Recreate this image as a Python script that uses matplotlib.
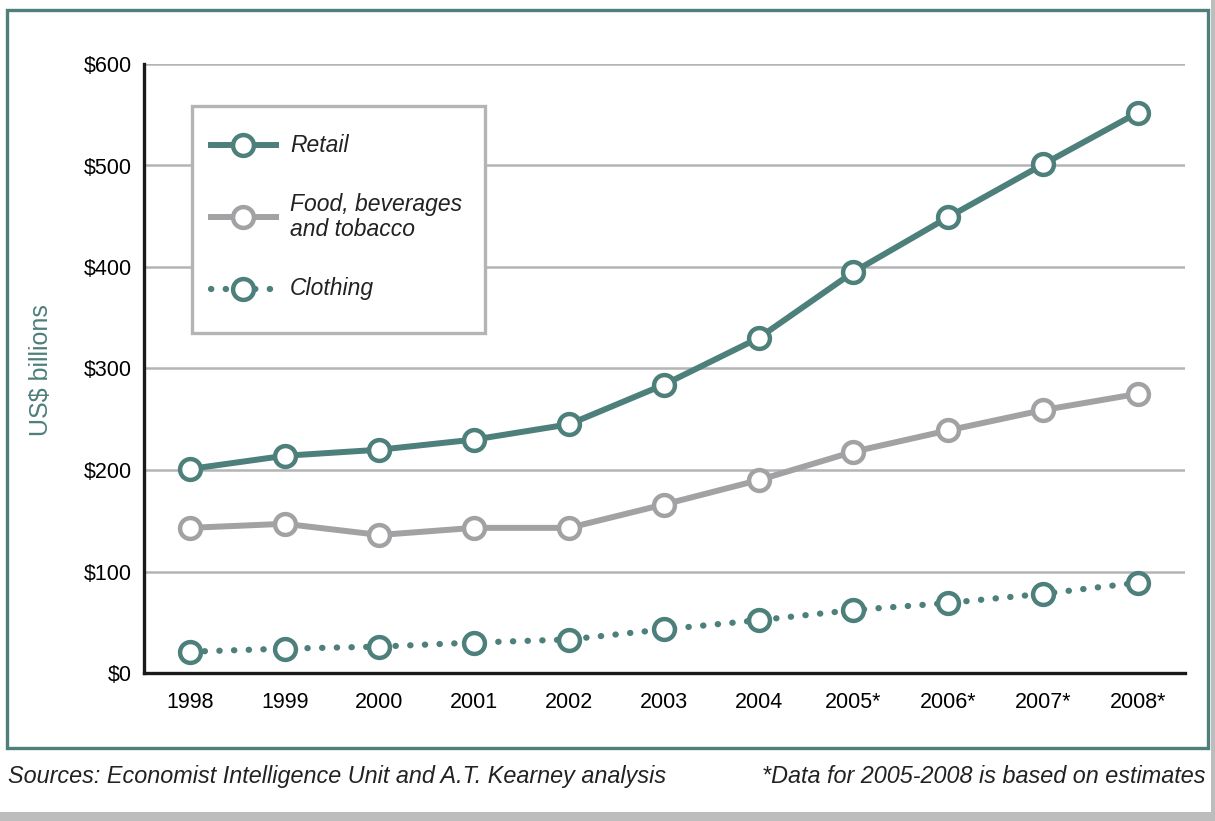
import matplotlib.pyplot as plt
from matplotlib.patches import Rectangle
from matplotlib.lines import Line2D

# ------------------------------------------
# DATA
# ------------------------------------------
years = ["1998", "1999", "2000", "2001", "2002", "2003",
         "2004", "2005*", "2006*", "2007*", "2008*"]
retail = [201, 214, 220, 230, 245, 284, 330, 395, 449, 501, 552]
food = [143, 147, 136, 143, 143, 166, 190, 218, 239, 259, 275]
clothing = [21, 24, 26, 30, 33, 43, 52, 62, 69, 78, 89]
yticks = [0, 100, 200, 300, 400, 500, 600]
ytick_labels = ["$0", "$100", "$200", "$300", "$400", "$500", "$600"]
series_labels = ["Retail", "Food, beverages\nand tobacco", "Clothing"]

TEAL = "#4d7f7b"
GRAY = "#a2a2a5"
GRID = "#b4b4b6"
FONT = ["Liberation Sans Narrow", "Liberation Sans", "DejaVu Sans"]

plt.rcParams["font.family"] = FONT

W, H = 1215, 821
fig = plt.figure(figsize=(W / 100, H / 100), dpi=100)


def fx(px):
    return px / W


def fy(py):
    return 1 - py / H


# outer teal frame
fig.patches.append(Rectangle((fx(7), fy(748)), (1208 - 7) / W, (748 - 10) / H,
                             transform=fig.transFigure, fill=False,
                             edgecolor=TEAL, linewidth=2.4, zorder=0))
# gray bars at bottom / right
fig.patches.append(Rectangle((0, 0), 1, 9 / H, transform=fig.transFigure,
                             facecolor="#bdbdbd", edgecolor="none"))
fig.patches.append(Rectangle((fx(1211), 0), 4 / W, 1, transform=fig.transFigure,
                             facecolor="#bdbdbd", edgecolor="none"))

ax = fig.add_axes([fx(144), fy(673), (1185 - 144) / W, (673 - 64) / H])

x = list(range(len(years)))

for yv in yticks[1:]:
    ax.axhline(yv, color=GRID, lw=1.8, zorder=1)

mk = dict(marker="o", markersize=15, markerfacecolor="white",
          markeredgewidth=3.2, zorder=3)
styles = [
    dict(color=TEAL, lw=4.3, markeredgecolor=TEAL),
    dict(color=GRAY, lw=4.3, markeredgecolor=GRAY),
    dict(color=TEAL, lw=4.5, linestyle=(0, (0.05, 2.3)),
         dash_capstyle="round", markeredgecolor=TEAL),
]
for vals, st in zip([retail, food, clothing], styles):
    ax.plot(x, vals, **st, **mk)

ax.set_xlim(-0.485, 10.5)
ax.set_ylim(0, 600)
ax.set_xticks(x)
ax.set_xticklabels(years, fontsize=15.5)
ax.set_yticks(yticks)
ax.set_yticklabels(ytick_labels, fontsize=15.5)
ax.tick_params(length=0)
ax.tick_params(axis="y", pad=9)
ax.tick_params(axis="x", pad=14)

for s in ["top", "right"]:
    ax.spines[s].set_visible(False)
for s in ["left", "bottom"]:
    ax.spines[s].set_linewidth(2.4)
    ax.spines[s].set_color("#1a1a1a")

fig.text(fx(41), fy(370), "US$ billions", rotation=90, color=TEAL,
         fontsize=18, ha="center", va="center")

# legend box drawn by hand
fig.patches.append(Rectangle((fx(192), fy(333)), (485 - 192) / W, (333 - 106) / H,
                             transform=fig.transFigure, facecolor="white",
                             edgecolor=GRID, linewidth=2.4, zorder=5))
leg_y = [145, 217, 289]
for lab, st, yy in zip(series_labels, styles, leg_y):
    fig.add_artist(Line2D([fx(211), fx(276)], [fy(yy), fy(yy)],
                          transform=fig.transFigure, zorder=6, **st))
    fig.add_artist(Line2D([fx(243)], [fy(yy)], transform=fig.transFigure,
                          color=st["color"], markeredgecolor=st["color"],
                          marker="o", markersize=15, markerfacecolor="white",
                          markeredgewidth=3.2, linestyle="none", zorder=7))
    fig.text(fx(290), fy(yy), lab, fontsize=16.5, style="italic",
             color="#222222", ha="left", va="center", linespacing=1.15,
             zorder=7)

fig.text(fx(8), fy(776),
         "Sources: Economist Intelligence Unit and A.T. Kearney analysis",
         fontsize=16.8, style="italic", color="#222222", ha="left", va="center")
fig.text(fx(1205), fy(776),
         "*Data for 2005-2008 is based on estimates",
         fontsize=16.8, style="italic", color="#222222", ha="right", va="center")

fig.savefig("out.png", dpi=100)
